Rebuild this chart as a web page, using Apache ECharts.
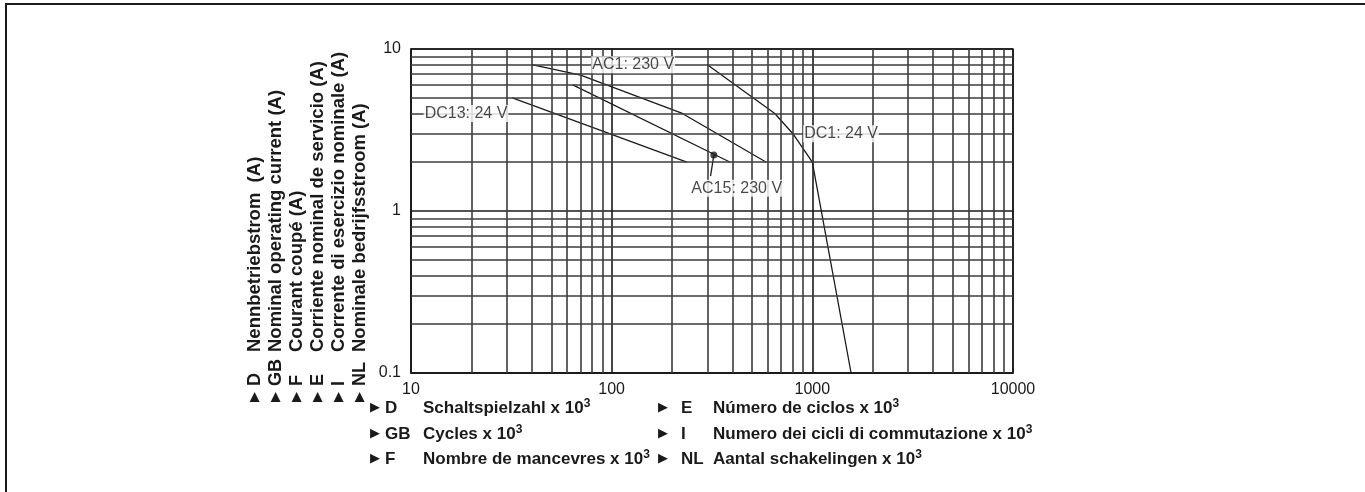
<!DOCTYPE html>
<html>
<head>
<meta charset="utf-8">
<script src="https://cdn.jsdelivr.net/npm/echarts@6/dist/echarts.min.js"></script>
<style>
  html, body { margin: 0; padding: 0; background: #fff; }
  #chart { width: 1365px; height: 492px; }
</style>
</head>
<body>
<div id="chart"></div>
<script>
// curves (cycles x 10^3, current A)
const ac1 = [[40, 8], [70, 6.9], [225, 4], [590, 2]]
const ac15 = [[64, 6], [390, 2]]
const dc13 = [[32, 5], [237, 2]]
const dc1 = [[300, 8], [650, 4], [800, 3], [1000, 2], [1560, 0.1]]
const ac15Dot = [323, 2.22]
const ac15Leader = [[323, 2.22], [311, 1.64]]

// curve labels: name and anchor point
const curveLabels = [
  { name: 'AC1: 230 V', value: [128, 8] },
  { name: 'DC13: 24 V', value: [18.8, 4] },
  { name: 'DC1: 24 V', value: [1390, 3] },
  { name: 'AC15: 230 V', value: [420, 1.38] }
]

// minor grid lines (log decades)
const xMinor = [20, 30, 40, 50, 60, 70, 80, 90, 200, 300, 400, 500, 600, 700, 800, 900,
  2000, 3000, 4000, 5000, 6000, 7000, 8000, 9000]
const yMinor = [0.2, 0.3, 0.4, 0.5, 0.6, 0.7, 0.8, 0.9, 2, 3, 4, 5, 6, 7, 8, 9]

// axis titles
const yTitles = [
  ['D', 'Nennbetriebstrom  (A)'],
  ['GB', 'Nominal operating current (A)'],
  ['F', 'Courant coupé (A)'],
  ['E', 'Corriente nominal de servicio (A)'],
  ['I', 'Corrente di esercizio nominale (A)'],
  ['NL', 'Nominale bedrijfsstroom (A)']
]
const xTitles = [
  ['D', 'Schaltspielzahl x 10'],
  ['GB', 'Cycles x 10'],
  ['F', 'Nombre de mancevres x 10'],
  ['E', 'Número de ciclos x 10'],
  ['I', 'Numero dei cicli di commutazione x 10'],
  ['NL', 'Aantal schakelingen x 10']
]

const FONT = '"Liberation Sans", Arial, Helvetica, sans-serif'
const GRID = { left: 411, top: 49, width: 602, height: 324 }
const ink = '#1a1a1a'

let graphics = []
// frame of the whole picture
graphics.push({
  type: 'polyline',
  shape: { points: [[6, 492], [6, 4], [1365, 4]] },
  style: { stroke: ink, lineWidth: 2, fill: null }
})
// rotated y title lines
for (let i = 0; i < yTitles.length; i++) {
  let x = 255 + i * 21
  graphics.push({
    type: 'text', x: x, y: 397, rotation: Math.PI / 2,
    style: { text: '▶', fill: ink, font: '13px "DejaVu Sans"', align: 'center', verticalAlign: 'middle' }
  })
  graphics.push({
    type: 'text', x: x, y: 386, rotation: Math.PI / 2,
    style: { text: yTitles[i][0], fill: ink, font: 'bold 18px ' + FONT, align: 'left', verticalAlign: 'middle' }
  })
  graphics.push({
    type: 'text', x: x, y: 352, rotation: Math.PI / 2,
    style: { text: yTitles[i][1], fill: ink, font: 'bold 18.5px ' + FONT, align: 'left', verticalAlign: 'middle' }
  })
}
// x title legend, two columns of three rows
const colX = [[370, 385, 423], [658, 681, 713]]
const rowY = [408, 434, 459]
for (let i = 0; i < xTitles.length; i++) {
  let c = colX[Math.floor(i / 3)]
  let y = rowY[i % 3]
  graphics.push({
    type: 'text', x: c[0], y: y,
    style: { text: '▶', fill: ink, font: '13px "DejaVu Sans"', align: 'left', verticalAlign: 'middle' }
  })
  graphics.push({
    type: 'text', x: c[1], y: y,
    style: { text: xTitles[i][0], fill: ink, font: 'bold 17px ' + FONT, align: 'left', verticalAlign: 'middle' }
  })
  graphics.push({
    type: 'text', x: c[2], y: y,
    style: {
      text: '{t|' + xTitles[i][1] + '}{s|3}',
      align: 'left', verticalAlign: 'middle',
      rich: {
        t: { fontFamily: FONT, fontWeight: 'bold', fontSize: 17, fill: ink, color: ink },
        s: { fontFamily: FONT, fontWeight: 'bold', fontSize: 12, fill: ink, color: ink, padding: [0, 0, 9, 0] }
      }
    }
  })
}

function curve (name, data) {
  return {
    name: name, type: 'line', data: data, symbol: 'none', z: 3,
    lineStyle: { color: ink, width: 1.3 }, animation: false, silent: true
  }
}

const gridLine = { color: '#3c3c3c', width: 1.6, type: 'solid' }

let option = {
  animation: false,
  grid: Object.assign({ show: true, borderColor: ink, borderWidth: 1.5, backgroundColor: '#fff' }, GRID),
  xAxis: {
    type: 'log', logBase: 10, min: 10, max: 10000,
    axisLine: { show: true, lineStyle: { color: ink, width: 1.5 } },
    axisTick: { show: false },
    splitLine: { show: true, lineStyle: { color: ink, width: 1.6 } },
    axisLabel: {
      margin: 9, fontSize: 16, color: ink, fontFamily: FONT,
      formatter: v => String(Math.round(v))
    }
  },
  yAxis: {
    type: 'log', logBase: 10, min: 0.1, max: 10,
    axisLine: { show: true, lineStyle: { color: ink, width: 1.5 } },
    axisTick: { show: false },
    splitLine: { show: true, lineStyle: { color: ink, width: 1.6 } },
    axisLabel: {
      margin: 10, fontSize: 16, color: ink, fontFamily: FONT,
      formatter: v => (v < 1 ? v.toFixed(1) : String(Math.round(v)))
    }
  },
  graphic: graphics,
  series: [
    {
      name: 'grid', type: 'line', data: [], z: 1, silent: true,
      markLine: {
        silent: true, symbol: 'none', animation: false,
        label: { show: false },
        lineStyle: gridLine,
        data: xMinor.map(v => ({ xAxis: v })).concat(yMinor.map(v => ({ yAxis: v })))
      }
    },
    curve('AC1: 230 V', ac1),
    curve('AC15: 230 V', ac15),
    curve('DC13: 24 V', dc13),
    curve('DC1: 24 V', dc1),
    curve('leader', ac15Leader),
    {
      name: 'dot', type: 'scatter', data: [ac15Dot], symbolSize: 7, z: 4,
      itemStyle: { color: ink }, silent: true
    },
    {
      name: 'labels', type: 'scatter', data: curveLabels, symbolSize: 0, z: 5, silent: true,
      label: {
        show: true, position: 'inside', formatter: '{b}',
        fontFamily: FONT, fontSize: 16, color: ink,
        backgroundColor: '#fff', padding: [1, 1, 0, 1]
      }
    }
  ]
}

let myChart = echarts.init(document.getElementById('chart'))
myChart.setOption(option)
</script>
</body>
</html>
